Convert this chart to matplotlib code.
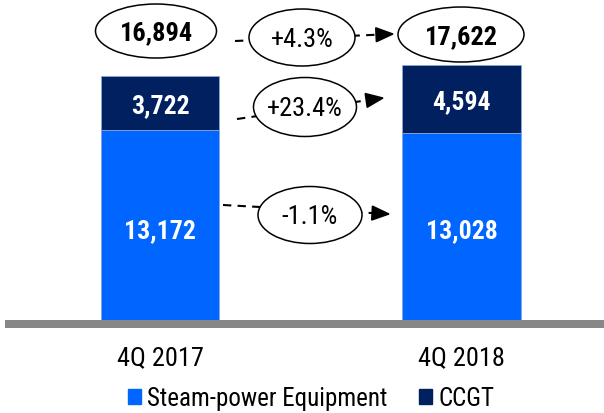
import numpy as np
import matplotlib
matplotlib.use('Agg')
import matplotlib.pyplot as plt
from matplotlib import font_manager
from matplotlib.patches import Ellipse, Polygon, Patch

# Шрифт: узкий, похожий на Arial Narrow
names = {f.name for f in font_manager.fontManager.ttflist}
prefs = ['Liberation Sans Narrow', 'Arial Narrow', 'Roboto Condensed',
         'Archivo Narrow', 'Asap Condensed', 'Liberation Sans']
fam = next(p for p in prefs if p in names or p == 'Liberation Sans')
plt.rcParams['font.family'] = [fam, 'DejaVu Sans']

# Данные
periods = ['4Q 2017', '4Q 2018']
steam = [13172, 13028]
ccgt = [3722, 4594]
totals = [s + c for s, c in zip(steam, ccgt)]

c_steam = '#0066FF'
c_ccgt = '#002060'

fig = plt.figure(figsize=(6.04, 4.14), dpi=100)
W, H = 604, 414
base_px = 325  # нулевая линия, пикселей от верха
ax = fig.add_axes([9 / W, (H - base_px) / H, (W - 9) / W, base_px / H])

x = np.arange(len(periods))
ax.bar(x, steam, width=0.393, color=c_steam, edgecolor='#8aa8d8', linewidth=0.6)
ax.bar(x, ccgt, bottom=steam, width=0.393, color=c_ccgt, edgecolor='#8aa8d8', linewidth=0.6)

ax.set_xlim(-0.5008, 1.4726)
ax.set_ylim(0, base_px * 68.05)

# Подписи внутри столбцов
for i in x:
    ax.text(i, 6400, f'{steam[i]:,}', ha='center', va='center', color='white',
            fontsize=18.5, fontweight='bold')
    ax.text(i, steam[i] + ccgt[i] / 2 - 150, f'{ccgt[i]:,}', ha='center', va='center',
            color='white', fontsize=18.5, fontweight='bold')

for s in ['top', 'right', 'left']:
    ax.spines[s].set_visible(False)
ax.spines['bottom'].set_color('#878787')
ax.spines['bottom'].set_linewidth(8 * 0.72)
ax.set_yticks([])
ax.set_xticks(x)
ax.set_xticklabels(periods, fontsize=19)
ax.tick_params(axis='x', length=0, pad=15)

# Легенда
handles = [Patch(color=c_steam, label='Steam-power Equipment'),
           Patch(color=c_ccgt, label='CCGT')]
fig.legend(handles=handles, loc='center', bbox_to_anchor=(311 / W, 1 - 399 / H),
           ncol=2, frameon=False, fontsize=18, handlelength=0.53, handleheight=0.55,
           handletextpad=0.25, columnspacing=1.25, borderpad=0)

# Слой подписей в пикселях
ov = fig.add_axes([0, 0, 1, 1])
ov.set_xlim(0, W)
ov.set_ylim(H, 0)
ov.axis('off')


def oval(cx, cy, w, h, txt, bold=False):
    ov.add_patch(Ellipse((cx, cy), w, h, facecolor='white', edgecolor='black',
                         linewidth=1.1, zorder=2))
    ov.text(cx, cy + 1.5, txt, ha='center', va='center', fontsize=19,
            fontweight='bold' if bold else 'normal', zorder=3)


def arrow(x0, y0, x1, y1):
    d = np.array([x1 - x0, y1 - y0], dtype=float)
    d /= np.hypot(*d)
    n = np.array([-d[1], d[0]])
    tip = np.array([x1, y1])
    b = tip - 17 * d
    ov.plot([x0, b[0]], [y0, b[1]], color='black', lw=1.5,
            linestyle=(0, (4, 3)), zorder=1)
    ov.add_patch(Polygon([tip, b + 7 * n, b - 7 * n], closed=True,
                         color='black', zorder=2))


# Итоги
oval(156, 32, 121, 54, f'{totals[0]:,}', bold=True)
oval(461, 35.5, 126, 55, f'{totals[1]:,}', bold=True)

# Изменения, %
g_tot = (totals[1] / totals[0] - 1) * 100
g_ccgt = (ccgt[1] / ccgt[0] - 1) * 100
g_steam = (steam[1] / steam[0] - 1) * 100

arrow(235, 42, 393, 35)
oval(302, 38.5, 106, 57, f'{g_tot:+.1f}%')
arrow(237, 120, 383, 99)
oval(305, 108, 103, 59, f'{g_ccgt:+.1f}%')
arrow(223, 206, 389, 215)
oval(310, 216, 104, 57, f'{g_steam:+.1f}%')

fig.savefig('out.png', dpi=100)
